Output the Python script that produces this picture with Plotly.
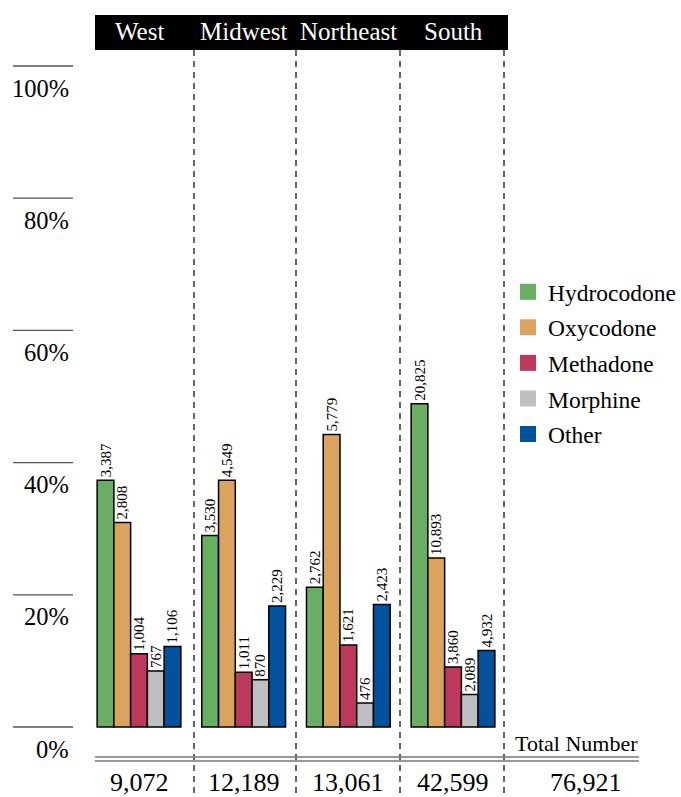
import plotly.graph_objects as go

# ---- data ----
regions = ["West", "Midwest", "Northeast", "South"]
drugs = ["Hydrocodone", "Oxycodone", "Methadone", "Morphine", "Other"]
hydrocodone = [3387, 3530, 2762, 20825]
oxycodone = [2808, 4549, 5779, 10893]
methadone = [1004, 1011, 1621, 3860]
morphine = [767, 870, 476, 2089]
other = [1106, 2229, 2423, 4932]
y_ticks = [0, 20, 40, 60, 80, 100]
total_label = "Total Number"

series = [hydrocodone, oxycodone, methadone, morphine, other]
colors = ["#69ae62", "#daa35e", "#bc385c", "#bebfc3", "#00529c"]

totals = [sum(s[i] for s in series) for i in range(len(regions))]
grand_total = sum(totals)

W, H = 681, 797
SERIF = "Liberation Serif, Times New Roman, serif"


def px_x(p):
    return p / W


def px_y(p):
    return 1 - p / H


fig = go.Figure()
for name, vals, col in zip(drugs, series, colors):
    pct = [v / t * 100 for v, t in zip(vals, totals)]
    fig.add_trace(go.Bar(
        x=regions, y=pct, name=name,
        marker=dict(color=col, line=dict(color="black", width=1.5)),
        text=[f"{v:,}" for v in vals],
        textposition="outside", textangle=-90,
        textfont=dict(family=SERIF, size=15, color="black"),
        constraintext="none", cliponaxis=False,
        showlegend=False, hoverinfo="skip",
    ))
    fig.add_trace(go.Scatter(
        x=[None], y=[None], mode="markers", name=name,
        marker=dict(symbol="square", size=17, color=col),
        legendgroup=name, showlegend=True,
    ))

# y-axis mapping: 0% at pixel 727, 100% at pixel 66
p0, p100 = 727, 66
ppu = (p0 - p100) / 100
y_lo = -(H - p0) / ppu
y_hi = 100 + p100 / ppu
# x-axis mapping: category 0 at pixel 139, spacing 104.67
c0, cs = 139, 104.67
x_lo = -c0 / cs
x_hi = (W - c0) / cs

shapes = []
annotations = []

# left tick lines and labels
for t in y_ticks:
    shapes.append(dict(type="line", xref="paper", yref="y", x0=px_x(13), x1=px_x(73),
                       y0=t, y1=t, line=dict(color="#555555", width=1.3)))
    annotations.append(dict(xref="paper", yref="y", x=px_x(71), y=t, yshift=-22,
                            text=f"{t}%", showarrow=False, xanchor="right", yanchor="middle",
                            font=dict(family=SERIF, size=24.5, color="black")))

# header black band
shapes.append(dict(type="rect", xref="paper", yref="paper", x0=px_x(95), x1=px_x(508),
                   y0=px_y(50), y1=px_y(15), fillcolor="black", line=dict(width=0), layer="below"))
for r in regions:
    annotations.append(dict(xref="x", yref="paper", x=r, y=px_y(32), text=r, showarrow=False,
                            xanchor="center", yanchor="middle",
                            font=dict(family=SERIF, size=25, color="white")))

# dashed dividers
for xp in (194, 296, 400, 504):
    shapes.append(dict(type="line", xref="paper", yref="paper", x0=px_x(xp), x1=px_x(xp),
                       y0=px_y(50), y1=0, line=dict(color="black", width=1.2, dash="6px,5px")))

# double line
for yy in (757, 761):
    shapes.append(dict(type="line", xref="paper", yref="paper", x0=px_x(95), x1=px_x(639),
                       y0=px_y(yy), y1=px_y(yy), line=dict(color="#777777", width=1.5)))

# totals
for r, t in zip(regions, totals):
    annotations.append(dict(xref="x", yref="paper", x=r, y=px_y(782), text=f"{t:,}",
                            showarrow=False, xanchor="center", yanchor="middle",
                            font=dict(family=SERIF, size=26, color="black")))
annotations.append(dict(xref="paper", yref="paper", x=px_x(586), y=px_y(782), text=f"{grand_total:,}",
                        showarrow=False, xanchor="center", yanchor="middle",
                        font=dict(family=SERIF, size=26, color="black")))
annotations.append(dict(xref="paper", yref="paper", x=px_x(576), y=px_y(743), text=total_label,
                        showarrow=False, xanchor="center", yanchor="middle",
                        font=dict(family=SERIF, size=22, color="black")))

fig.update_layout(
    width=W, height=H, margin=dict(l=0, r=0, t=0, b=0),
    paper_bgcolor="white", plot_bgcolor="white",
    barmode="group", bargap=0.2, bargroupgap=0,
    xaxis=dict(range=[x_lo, x_hi], visible=False, type="category"),
    yaxis=dict(range=[y_lo, y_hi], visible=False),
    shapes=shapes, annotations=annotations,
    legend=dict(x=px_x(508), y=px_y(270), xanchor="left", yanchor="top",
                font=dict(family=SERIF, size=23.5, color="black"),
                traceorder="grouped", tracegroupgap=2, bgcolor="rgba(0,0,0,0)"),
    showlegend=True,
)

fig.write_html("out.html")
